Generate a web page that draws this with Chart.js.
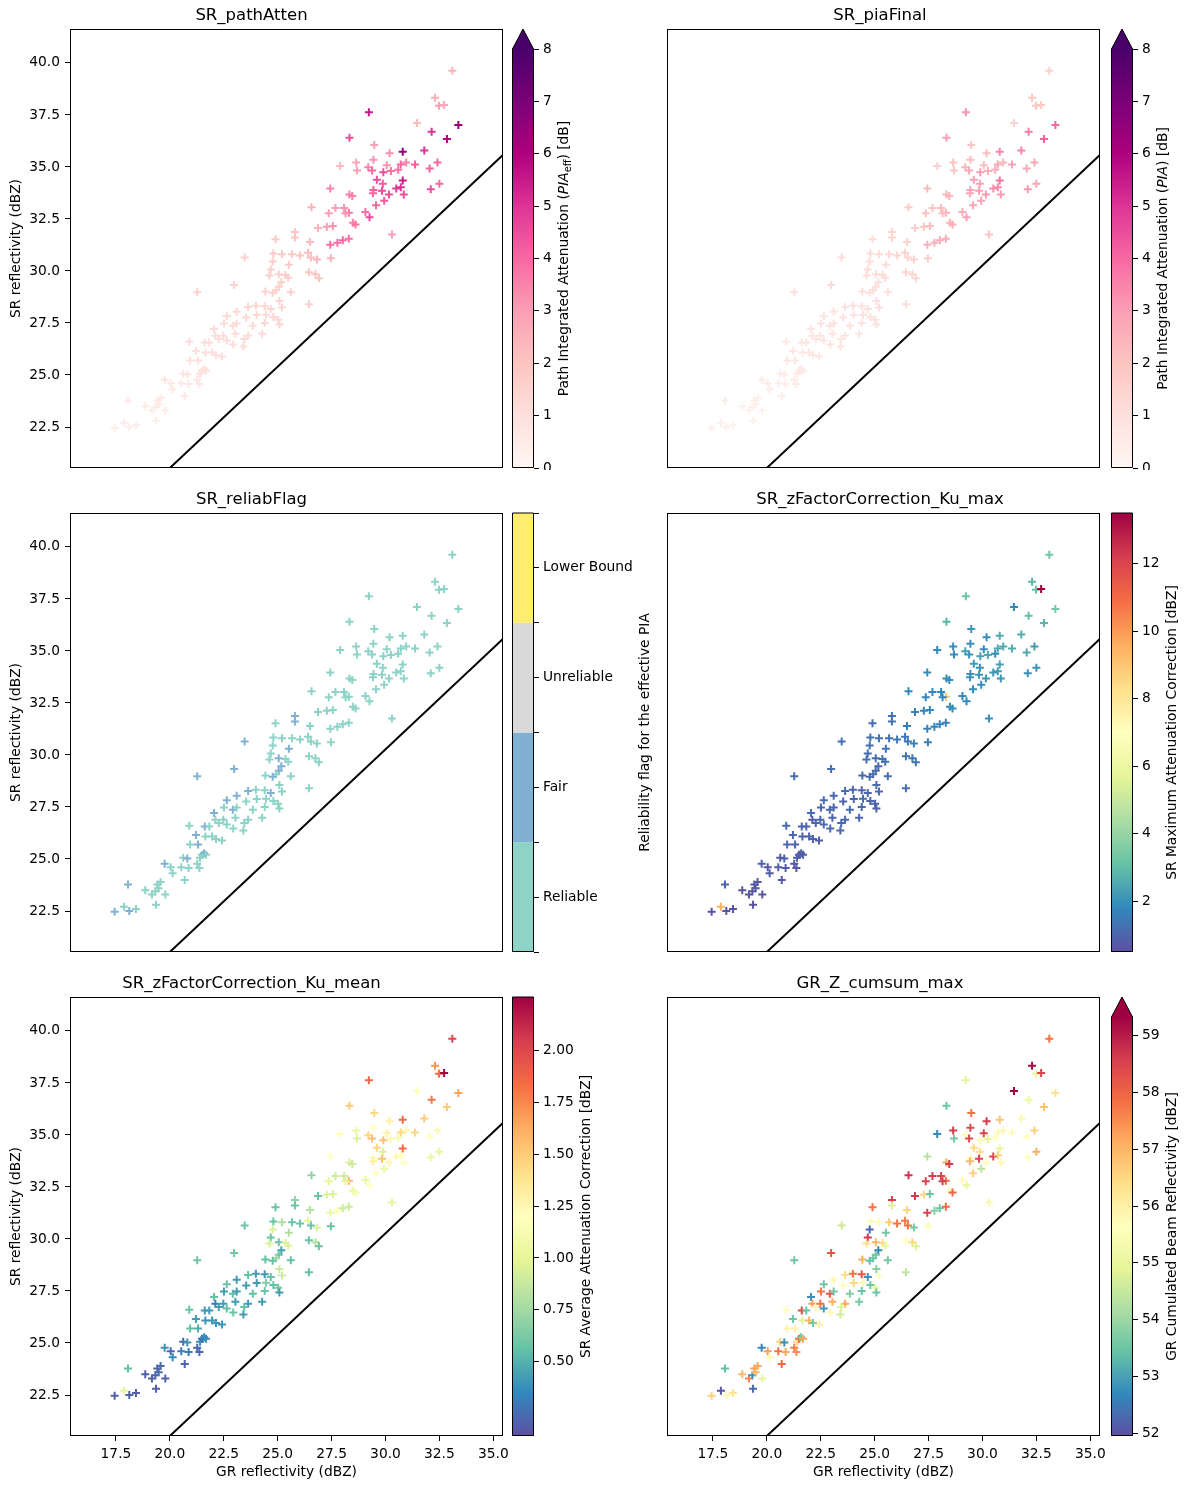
<!DOCTYPE html>
<html>
<head>
<meta charset="utf-8">
<title>SR vs GR reflectivity</title>
<script src="https://cdn.jsdelivr.net/npm/chart.js@4.4.1/dist/chart.umd.min.js"></script>
<style>
  body { margin: 0; background: #fff; }
  #fig { position: relative; width: 1189px; height: 1489px; overflow: hidden; background: #fff; }
  #fig canvas { position: absolute; }
</style>
</head>
<body>
<div id="fig"></div>
<script>
// ground radar reflectivity (x) and spaceborne radar reflectivity (y), same points in every panel
const grRefl = [
  17.44,17.87,18.12,18.43,18.06,18.86,19.17,19.33,19.42,19.57,
  19.79,19.36,19.48,20.69,19.76,20.04,20.13,20.53,20.87,20.62,
  20.81,21.27,21.37,21.40,21.49,21.59,21.68,20.94,21.31,21.21,
  20.90,21.65,21.96,22.14,22.42,21.62,21.83,22.05,22.11,22.27,
  22.48,22.64,22.94,23.04,22.51,22.92,23.10,23.41,23.63,23.45,
  22.64,23.54,23.85,24.28,24.03,24.40,24.46,23.10,23.63,23.99,
  24.40,21.27,22.98,
  26.87,27.28,27.56,25.80,25.80,24.90,26.50,27.44,27.77,28.02,
  28.30,23.47,24.80,25.20,25.67,26.04,26.41,26.54,26.82,27.47,
  24.77,25.52,24.68,25.05,25.36,25.49,26.45,26.75,26.91,24.62,
  25.17,25.05,24.93,24.43,24.77,25.61,25.08,25.20,26.45,24.68,
  24.80,25.02,25.08,
  33.10,32.30,32.48,32.72,29.23,33.38,31.46,32.14,32.85,28.33,
  29.48,30.19,30.80,31.80,32.41,27.90,28.64,28.68,29.44,29.20,
  29.38,30.06,30.71,30.96,31.37,32.05,29.90,30.25,30.59,29.60,
  29.88,30.80,32.50,32.10,27.44,29.44,29.84,29.42,30.50,30.71,
  30.16,30.85,29.94,29.56,28.33,28.46,29.07,29.26,28.30,26.57,
  27.68,28.08,28.15,27.37,28.49,28.61,30.30
];
const srRefl = [
  22.47,22.70,22.50,22.60,23.77,23.50,23.29,23.45,23.77,23.90,
  23.29,22.80,23.60,23.99,24.77,24.60,24.32,24.60,24.57,25.06,
  25.02,24.77,24.57,25.06,25.21,25.28,25.20,25.70,25.70,26.15,
  26.60,26.08,26.08,25.96,25.89,26.56,26.56,27.21,26.89,26.73,
  26.89,26.66,26.47,26.98,27.47,27.37,27.47,26.37,26.89,26.73,
  27.82,27.76,27.37,26.98,27.88,27.50,27.90,28.04,28.27,28.33,
  28.30,28.98,29.33,
  32.06,32.13,32.16,31.87,31.61,31.52,31.39,31.26,31.36,31.48,
  31.55,30.65,30.84,30.80,30.80,30.74,30.87,30.65,30.55,30.61,
  30.46,30.30,30.07,29.84,29.81,29.68,29.94,29.84,29.65,29.78,
  29.46,29.24,29.07,29.01,28.95,28.98,28.56,28.24,28.40,28.17,
  27.79,27.66,27.43,
  39.62,38.33,37.94,37.98,37.63,37.01,37.11,36.69,36.34,36.40,
  36.05,35.66,35.73,35.79,35.21,35.05,35.21,34.83,35.34,34.99,
  34.83,35.08,35.12,35.21,35.12,34.93,34.74,34.80,34.86,34.38,
  34.19,34.35,34.19,33.93,33.96,33.89,33.86,33.73,33.96,34.02,
  33.67,33.67,33.38,33.16,33.67,33.60,32.83,32.58,32.80,33.06,
  33.03,33.03,32.77,32.77,32.32,32.23,31.75
];
const pathAtten = [
  0.4,0.5,0.4,0.4,0.6,0.5,0.5,0.5,0.6,0.6,
  0.5,0.4,0.6,0.6,0.8,0.7,0.7,0.7,0.7,0.8,
  0.8,0.8,0.7,0.9,0.9,0.9,0.9,1.0,1.0,1.0,
  1.1,1.0,1.0,1.0,1.0,1.1,1.1,1.2,1.1,1.1,
  1.1,1.1,1.1,1.2,1.2,1.2,1.2,1.1,1.2,1.2,
  1.3,1.3,1.2,1.2,1.3,1.3,1.3,1.3,1.4,1.4,
  1.4,1.5,1.5,
  2.5,3.0,3.2,2.0,2.0,1.8,2.2,3.8,3.8,4.0,
  3.8,1.6,1.8,1.8,1.9,2.0,2.2,2.2,2.4,2.5,
  1.7,1.8,1.6,1.6,1.7,1.7,2.0,2.0,2.0,1.6,
  1.5,1.5,1.5,1.5,1.5,1.5,1.4,1.4,1.6,1.4,
  1.3,1.3,1.3,
  2.4,2.6,3.0,2.8,5.5,6.5,2.2,5.0,6.0,4.5,
  3.0,3.2,6.5,5.0,4.0,2.2,2.8,3.0,3.2,3.5,
  4.0,3.2,4.0,3.5,4.2,4.0,4.5,3.8,3.8,4.5,
  4.2,5.5,4.0,4.5,3.5,4.2,4.5,4.0,4.8,5.0,
  4.5,4.5,4.2,4.0,3.5,3.5,3.8,4.5,3.8,2.5,
  3.0,3.2,3.2,3.0,3.5,3.8,3.0
];
const piaFinal = [
  0.3,0.3,0.3,0.3,0.4,0.3,0.3,0.3,0.4,0.4,
  0.3,0.3,0.4,0.4,0.5,0.5,0.5,0.5,0.5,0.5,
  0.5,0.5,0.5,0.6,0.6,0.6,0.6,0.7,0.7,0.7,
  0.7,0.7,0.7,0.7,0.7,0.8,0.8,0.8,0.8,0.8,
  0.8,0.8,0.8,0.8,0.9,0.9,0.9,0.8,0.8,0.8,
  0.9,0.9,0.9,0.8,0.9,0.9,0.9,0.9,1.0,1.0,
  1.0,1.0,1.1,
  1.7,2.0,2.2,1.4,1.4,1.2,1.5,2.5,2.6,2.7,
  2.6,1.1,1.2,1.2,1.3,1.4,1.5,1.5,1.6,1.7,
  1.2,1.2,1.1,1.1,1.2,1.2,1.4,1.4,1.4,1.1,
  1.0,1.0,1.0,1.0,1.0,1.0,1.0,1.0,1.1,1.0,
  0.9,0.9,0.9,
  1.6,1.8,2.0,1.9,3.2,4.0,1.5,3.6,4.2,3.0,
  2.0,2.2,3.5,3.4,2.8,1.5,2.0,2.0,2.2,2.4,
  2.8,2.2,2.8,2.4,2.9,2.8,3.0,2.6,2.6,3.0,
  2.9,3.8,2.8,3.1,2.3,2.9,3.0,2.8,3.3,3.4,
  3.1,3.1,2.9,2.8,2.4,2.4,2.6,3.0,2.6,1.7,
  2.0,2.2,2.2,2.0,2.4,2.6,2.0
];
// 1 Reliable, 2 Fair, 3 Unreliable, 4 Lower Bound
const reliabFlag = [
  2,1,2,1,2,1,1,1,1,1,
  1,1,1,1,2,1,1,1,1,1,
  2,1,1,1,1,2,1,1,2,2,
  1,1,1,1,1,2,1,2,1,1,
  1,1,1,1,1,2,1,1,1,1,
  2,1,1,1,1,1,1,2,2,1,
  1,2,2,
  1,1,1,2,2,1,1,1,1,1,
  1,2,1,1,1,1,1,1,1,1,
  1,2,1,2,1,1,1,1,1,1,
  2,2,1,1,2,1,1,1,1,2,
  1,1,1,
  1,1,1,1,1,1,1,1,1,1,
  1,1,1,1,1,1,1,1,1,1,
  1,1,1,1,1,1,1,1,1,1,
  1,1,1,1,1,1,1,1,1,1,
  1,1,1,1,1,1,1,1,1,1,
  1,1,1,1,1,1,1
];
const kuMax = [
  0.6,9.5,0.6,0.6,1.0,0.6,0.6,0.6,0.7,0.7,
  0.6,0.6,0.7,0.7,0.9,0.7,0.8,0.8,0.8,0.7,
  0.9,0.7,0.7,0.9,0.8,0.9,0.9,1.1,1.0,1.0,
  1.1,0.9,0.9,0.9,0.9,1.0,1.0,1.1,0.8,1.0,
  1.0,1.1,1.1,1.0,1.0,1.1,1.0,1.0,1.0,1.1,
  1.2,1.0,1.1,1.0,1.0,1.1,1.2,1.0,1.1,1.0,
  1.0,1.2,1.2,
  1.6,1.7,1.8,1.3,1.3,1.2,1.6,1.7,1.7,1.7,
  1.7,1.3,1.3,1.3,1.3,1.4,1.4,1.4,1.6,1.6,
  1.2,1.3,1.2,1.2,1.3,1.3,1.4,1.4,1.4,1.2,
  1.1,1.1,1.2,1.1,1.1,1.2,1.1,1.1,1.2,1.0,
  1.0,1.0,0.9,
  3.3,2.9,3.2,13.5,3.2,3.4,1.8,3.1,2.8,2.8,
  2.1,1.9,2.6,2.6,2.2,1.8,1.9,1.8,2.0,2.4,
  2.0,1.9,2.5,2.6,2.6,2.5,2.4,2.5,1.9,2.2,
  2.0,2.3,2.1,2.0,1.9,2.0,2.1,2.0,2.1,2.2,
  2.1,2.1,1.9,1.9,1.9,1.9,1.8,1.8,9.0,1.8,
  1.8,1.8,1.8,1.8,1.9,1.9,2.0
];
const kuMean = [
  0.20,1.00,0.20,0.20,0.56,0.20,0.20,0.22,0.22,0.24,
  0.20,0.20,0.24,0.22,0.40,0.24,0.36,0.30,0.30,0.24,
  0.40,0.24,0.24,0.38,0.26,0.38,0.36,0.56,0.48,0.42,
  0.58,0.40,0.40,0.40,0.40,0.42,0.42,0.56,0.32,0.42,
  0.42,0.56,0.58,0.42,0.42,0.56,0.42,0.42,0.42,0.56,
  0.58,0.42,0.56,0.42,0.42,0.58,0.65,0.42,0.56,0.42,
  0.42,0.58,0.60,
  0.58,0.95,0.95,0.70,0.58,0.58,0.82,1.05,1.20,0.90,
  0.90,0.58,0.58,0.80,0.58,0.58,1.00,0.58,0.95,0.58,
  0.95,0.80,0.58,0.58,0.95,0.95,0.58,0.82,0.58,0.95,
  0.45,0.56,0.75,0.56,0.56,0.56,0.90,0.90,0.56,0.56,
  0.56,0.60,0.42,
  2.00,1.70,1.85,2.25,1.85,1.65,1.20,1.80,1.50,1.50,
  1.45,1.30,1.85,1.50,1.25,1.20,1.05,0.95,1.20,1.45,
  1.55,1.30,1.45,1.25,1.45,1.20,1.55,1.25,1.10,1.45,
  0.95,1.85,1.00,1.05,1.20,1.15,1.55,1.30,1.25,1.20,
  1.25,1.20,1.05,1.20,0.95,0.90,1.05,1.20,1.60,0.70,
  0.90,0.90,1.00,1.00,1.05,1.10,1.00
];
const grZCumMax = [
  56.6,52.0,55.8,56.3,53.4,57.0,57.6,52.8,57.3,57.2,
  55.0,52.3,57.0,57.9,52.7,57.3,55.8,57.8,57.2,56.6,
  52.8,57.7,57.4,56.5,57.8,53.5,57.2,55.9,55.9,53.5,
  55.6,54.8,57.0,53.6,56.0,58.4,53.5,52.8,57.3,55.8,
  57.8,52.9,55.8,57.1,57.8,58.2,53.6,54.6,57.2,54.8,
  53.5,55.7,53.7,53.6,56.5,53.5,55.8,55.8,56.4,57.8,
  58.2,53.5,58.2,
  58.6,56.5,53.5,58.6,54.8,57.8,56.5,58.5,53.8,53.5,
  57.9,54.6,55.7,55.6,56.7,57.8,57.7,57.8,53.6,55.7,
  52.3,53.6,58.6,57.0,56.5,55.0,55.6,56.5,54.8,56.4,
  52.7,53.5,53.5,57.1,53.4,53.6,53.8,55.6,54.4,52.8,
  53.5,55.0,53.5,
  57.8,59.2,55.0,58.5,54.9,56.3,59.3,55.1,56.8,53.5,
  57.8,58.6,56.8,55.8,56.6,52.7,58.6,53.6,58.4,55.5,
  58.4,58.5,55.8,55.8,55.7,55.6,55.5,55.0,55.6,56.5,
  56.4,55.0,57.1,55.6,54.3,55.7,58.5,57.0,58.5,56.6,
  55.7,55.8,54.4,56.6,57.2,58.6,55.7,55.0,57.8,58.7,
  58.6,58.5,58.6,58.5,55.7,58.0,55.3
];

const xTicks = [17.5, 20.0, 22.5, 25.0, 27.5, 30.0, 32.5, 35.0];
const yTicks = [22.5, 25.0, 27.5, 30.0, 32.5, 35.0, 37.5, 40.0];
const piaTicks = [0, 1, 2, 3, 4, 5, 6, 7, 8];
const kuMaxTicks = [2, 4, 6, 8, 10, 12];
const kuMeanTicks = [0.5, 0.75, 1.0, 1.25, 1.5, 1.75, 2.0];
const grTicks = [52, 53, 54, 55, 56, 57, 58, 59];
const flagLabels = ['Reliable', 'Fair', 'Unreliable', 'Lower Bound'];
const flagTicks = [0.5, 1, 1.5, 2, 2.5, 3, 3.5, 4, 4.5];
// reference line
const refLine = [{x: 15, y: 15.66}, {x: 36, y: 36.11}];

const X_RANGE = [15.37, 35.45];
const Y_RANGE = [20.53, 41.63];

const RDPU = ['#fff7f3','#fde0dd','#fcc5c0','#fa9fb5','#f768a1','#dd3497','#ae017e','#7a0177','#49006a'];
const SPECTRAL_R = ['#5e4fa2','#3288bd','#66c2a5','#abdda4','#e6f598','#ffffbf','#fee08b','#fdae61','#f46d43','#d53e4f','#9e0142'];
const FLAG_COLORS = ['#8dd3c7','#80b1d3','#d9d9d9','#ffed6f'];

const FONT = 'DejaVu Sans';
const TICK_PX = 13.8;
const TITLE_PX = 16.5;

// figure geometry (px)
const ROW_TOP = [29, 513, 997];
const AX_H = 439;
const AX_LEFT = [70, 667];
const AX_W = 433;
const CB_LEFT = [512, 1111];
const CB_W = 22;
const CB_CANVAS_W = [150, 78];
const EXT = 20;

function hexRgb(h) {
  return [parseInt(h.slice(1, 3), 16), parseInt(h.slice(3, 5), 16), parseInt(h.slice(5, 7), 16)];
}

function sampleCmap(stops, t) {
  t = Math.max(0, Math.min(1, t));
  const p = t * (stops.length - 1);
  const i = Math.min(Math.floor(p), stops.length - 2);
  const f = p - i;
  const a = hexRgb(stops[i]), b = hexRgb(stops[i + 1]);
  const c = a.map((v, k) => Math.round(v + (b[k] - v) * f));
  return `rgb(${c[0]},${c[1]},${c[2]})`;
}

function font(size, style) {
  return `${style || 'normal'} ${size}px "${FONT}"`;
}

const panels = [
  { title: 'SR_pathAtten', values: pathAtten, cmap: RDPU, vmin: 0, vmax: 8, extend: true,
    ticks: piaTicks, fmt: v => String(v), row: 0, col: 0,
    label: [{t: 'Path Integrated Attenuation ('}, {t: 'PIA', s: 'italic'}, {t: 'eff', size: 9.8, dy: 3.5}, {t: ') [dB]'}] },
  { title: 'SR_piaFinal', values: piaFinal, cmap: RDPU, vmin: 0, vmax: 8, extend: true,
    ticks: piaTicks, fmt: v => String(v), row: 0, col: 1,
    label: [{t: 'Path Integrated Attenuation ('}, {t: 'PIA', s: 'italic'}, {t: ') [dB]'}] },
  { title: 'SR_reliabFlag', values: reliabFlag, flags: true, vmin: 0.5, vmax: 4.5, extend: false,
    ticks: flagTicks, fmt: v => Number.isInteger(v) ? flagLabels[v - 1] : '', row: 1, col: 0,
    label: [{t: 'Reliability flag for the effective PIA'}] },
  { title: 'SR_zFactorCorrection_Ku_max', values: kuMax, cmap: SPECTRAL_R, vmin: 0.49, vmax: 13.5, extend: false,
    ticks: kuMaxTicks, fmt: v => String(v), row: 1, col: 1,
    label: [{t: 'SR Maximum Attenuation Correction [dBZ]'}] },
  { title: 'SR_zFactorCorrection_Ku_mean', values: kuMean, cmap: SPECTRAL_R, vmin: 0.14, vmax: 2.26, extend: false,
    ticks: kuMeanTicks, fmt: v => v.toFixed(2), row: 2, col: 0,
    label: [{t: 'SR Average Attenuation Correction [dBZ]'}] },
  { title: 'GR_Z_cumsum_max', values: grZCumMax, cmap: SPECTRAL_R, vmin: 51.95, vmax: 59.33, extend: true,
    ticks: grTicks, fmt: v => String(v), row: 2, col: 1,
    label: [{t: 'GR Cumulated Beam Reflectivity [dBZ]'}] }
];

function colorOf(p, v) {
  if (p.flags) return FLAG_COLORS[v - 1];
  return sampleCmap(p.cmap, (v - p.vmin) / (p.vmax - p.vmin));
}

function addCanvas(left, top, w, h) {
  const c = document.createElement('canvas');
  c.width = w;
  c.height = h;
  c.style.left = left + 'px';
  c.style.top = top + 'px';
  c.style.width = w + 'px';
  c.style.height = h + 'px';
  document.getElementById('fig').appendChild(c);
  return c;
}

function zeroPad(s) {
  s.paddingTop = 0; s.paddingBottom = 0; s.paddingLeft = 0; s.paddingRight = 0;
}

const framePlugin = {
  id: 'frame',
  afterDatasetsDraw(chart) {
    const a = chart.chartArea, ctx = chart.ctx;
    ctx.save();
    ctx.strokeStyle = '#000';
    ctx.lineWidth = 1;
    ctx.strokeRect(a.left + 0.5, a.top + 0.5, a.right - a.left - 1, a.bottom - a.top - 1);
    ctx.restore();
  }
};

const points = grRefl.map((x, i) => ({x: x, y: srRefl[i]}));

function drawPanel(p) {
  const r = p.row, c = p.col;
  const bottomRow = r === 2;
  const left = c === 0 ? 0 : AX_LEFT[1] - 7;
  const w = c === 0 ? AX_LEFT[0] + AX_W + 7 : AX_W + 14;
  const top = ROW_TOP[r] - 29;
  const h = 29 + AX_H + (bottomRow ? 53 : 6);
  const canvas = addCanvas(left, top, w, h);
  const colors = p.values.map(v => colorOf(p, v));
  const tickFont = {family: FONT, size: TICK_PX};

  new Chart(canvas, {
    type: 'scatter',
    data: {
      datasets: [
        { type: 'line', data: refLine, borderColor: '#000', borderWidth: 2, pointRadius: 0, fill: false },
        { data: points, pointStyle: 'cross', pointRadius: 4, borderWidth: 2,
          borderColor: colors, backgroundColor: colors }
      ]
    },
    options: {
      responsive: false,
      animation: false,
      events: [],
      layout: { padding: { left: 0, right: 7, top: 0, bottom: 0 } },
      plugins: {
        legend: { display: false },
        tooltip: { enabled: false },
        title: { display: true, text: p.title, color: '#000',
                 font: { family: FONT, size: TITLE_PX, weight: 'normal' },
                 padding: { top: 5.5, bottom: 3.7 } }
      },
      scales: {
        x: {
          type: 'linear', min: X_RANGE[0], max: X_RANGE[1],
          afterBuildTicks: s => { s.ticks = xTicks.map(v => ({value: v})); },
          afterFit: s => { s.height = bottomRow ? 53 : 6; zeroPad(s); },
          ticks: { display: bottomRow, callback: v => v.toFixed(1), font: tickFont, color: '#000',
                   padding: 5, maxRotation: 0, autoSkip: false },
          grid: { display: bottomRow, drawOnChartArea: false, drawTicks: true, tickLength: 5, color: '#000' },
          border: { display: false },
          title: { display: bottomRow, text: 'GR reflectivity (dBZ)', color: '#000',
                   font: tickFont, padding: { top: 0, bottom: 8.6 } }
        },
        y: {
          type: 'linear', min: Y_RANGE[0], max: Y_RANGE[1],
          afterBuildTicks: s => { s.ticks = yTicks.map(v => ({value: v})); },
          afterFit: s => { s.width = c === 0 ? AX_LEFT[0] : 7; zeroPad(s); },
          ticks: { display: c === 0, callback: v => v.toFixed(1), font: tickFont, color: '#000',
                   padding: 5, autoSkip: false },
          grid: { display: c === 0, drawOnChartArea: false, drawTicks: true, tickLength: 5, color: '#000' },
          border: { display: false },
          title: { display: c === 0, text: 'SR reflectivity (dBZ)', color: '#000',
                   font: tickFont, padding: { top: 8.5, bottom: 0 } }
        }
      }
    },
    plugins: [framePlugin]
  });
}

function drawRotatedLabel(ctx, segs, cx, cy) {
  ctx.save();
  ctx.translate(cx, cy);
  ctx.rotate(-Math.PI / 2);
  ctx.fillStyle = '#000';
  ctx.textBaseline = 'middle';
  ctx.textAlign = 'left';
  let total = 0;
  segs.forEach(s => {
    ctx.font = font(s.size || TICK_PX, s.s);
    s.w = ctx.measureText(s.t).width;
    total += s.w;
  });
  let x = -total / 2;
  segs.forEach(s => {
    ctx.font = font(s.size || TICK_PX, s.s);
    ctx.fillText(s.t, x, s.dy || 0);
    x += s.w;
  });
  ctx.restore();
}

function colorbarPlugin(p) {
  return {
    id: 'cbar',
    beforeDatasetsDraw(chart) {
      const a = chart.chartArea, ctx = chart.ctx;
      const ys = chart.scales.y;
      ctx.save();
      if (p.flags) {
        FLAG_COLORS.forEach((col, i) => {
          const y0 = ys.getPixelForValue(i + 0.5), y1 = ys.getPixelForValue(i + 1.5);
          ctx.fillStyle = col;
          ctx.fillRect(a.left, y1, a.right - a.left, y0 - y1);
        });
      } else {
        const g = ctx.createLinearGradient(0, a.bottom, 0, a.top);
        p.cmap.forEach((col, i) => g.addColorStop(i / (p.cmap.length - 1), col));
        ctx.fillStyle = g;
        ctx.fillRect(a.left, a.top, a.right - a.left, a.bottom - a.top);
        if (p.extend) {
          ctx.fillStyle = p.cmap[p.cmap.length - 1];
          ctx.beginPath();
          ctx.moveTo(a.left, a.top + 0.5);
          ctx.lineTo((a.left + a.right) / 2, a.top - EXT);
          ctx.lineTo(a.right, a.top + 0.5);
          ctx.closePath();
          ctx.fill();
        }
      }
      ctx.restore();
    },
    afterDraw(chart) {
      const a = chart.chartArea, ctx = chart.ctx;
      ctx.save();
      ctx.strokeStyle = '#000';
      ctx.lineWidth = 1;
      ctx.beginPath();
      ctx.moveTo(a.left + 0.5, a.bottom - 0.5);
      ctx.lineTo(a.left + 0.5, a.top);
      if (p.extend) ctx.lineTo((a.left + a.right) / 2, a.top - EXT);
      ctx.lineTo(a.right - 0.5, a.top);
      ctx.lineTo(a.right - 0.5, a.bottom - 0.5);
      ctx.closePath();
      ctx.stroke();
      ctx.font = font(TICK_PX);
      let maxW = 0;
      p.ticks.forEach(v => { maxW = Math.max(maxW, ctx.measureText(p.fmt(v)).width); });
      const cx = a.right + 9 + maxW + 13;
      drawRotatedLabel(ctx, p.label, cx, (a.top + a.bottom) / 2);
      ctx.restore();
    }
  };
}

function drawColorbar(p) {
  const r = p.row, c = p.col;
  const W = CB_CANVAS_W[c];
  const top = ROW_TOP[r] - 25;
  const h = 25 + AX_H + 2;
  const canvas = addCanvas(CB_LEFT[c], top, W, h);
  new Chart(canvas, {
    type: 'scatter',
    data: { datasets: [] },
    options: {
      responsive: false,
      animation: false,
      events: [],
      layout: { padding: { left: 0, right: 0, top: 25 + (p.extend ? EXT : 0), bottom: 2 } },
      plugins: { legend: { display: false }, tooltip: { enabled: false } },
      scales: {
        x: { display: false, min: 0, max: 1 },
        y: {
          position: 'right', min: p.vmin, max: p.vmax,
          afterBuildTicks: s => { s.ticks = p.ticks.map(v => ({value: v})); },
          afterFit: s => { s.width = W - CB_W; zeroPad(s); },
          ticks: { callback: v => p.fmt(v), font: {family: FONT, size: TICK_PX}, color: '#000',
                   padding: 4, autoSkip: false },
          grid: { drawOnChartArea: false, drawTicks: true, tickLength: 5, color: '#000' },
          border: { display: false }
        }
      }
    },
    plugins: [colorbarPlugin(p)]
  });
}

panels.forEach(p => { drawPanel(p); drawColorbar(p); });
</script>
</body>
</html>
